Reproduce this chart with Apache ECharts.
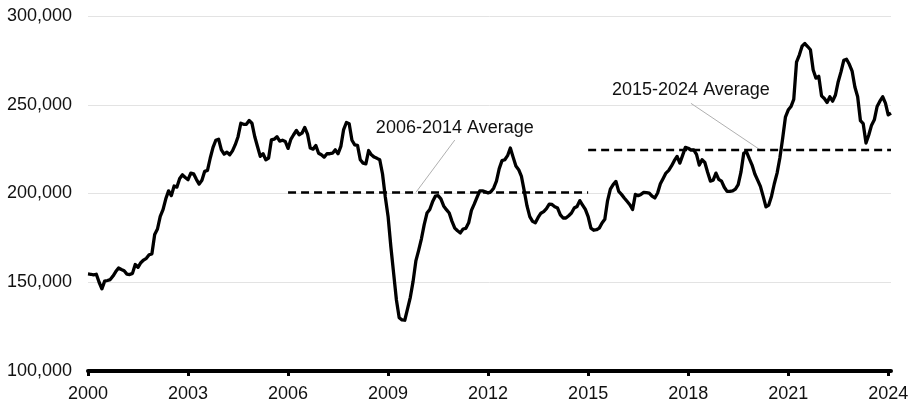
<!DOCTYPE html>
<html><head><meta charset="utf-8">
<script src="https://cdn.jsdelivr.net/npm/echarts@6/dist/echarts.min.js"></script>
<style>html,body{margin:0;padding:0;background:#fff}#c{width:914px;height:404px}</style>
</head><body><div id="c"></div>
<script>
// Monthly values, Jan 2000 – Feb 2024
const v2000 = [154700,154500,154100,154500,150000,146300,150600,151000,151500,153500,156000,158000];
const v2001 = [157200,156500,154600,154300,155000,160000,158400,161000,162500,163500,165500,166000];
const v2002 = [176900,180000,187100,190900,197000,201500,198800,204200,203600,208500,210500,209000];
const v2003 = [207800,211500,211100,208000,205300,207500,212500,213000,220000,226000,230000,230600];
const v2004 = [224600,222200,223300,221800,224000,227500,232000,239600,239000,239000,241100,239600];
const v2005 = [232100,226500,220900,222400,219000,220000,230200,230600,232000,229500,230000,229300];
const v2006 = [225400,230500,233100,235500,233100,234000,237200,233500,225600,225000,227000,222700];
const v2007 = [221800,220500,222400,222400,222700,224600,222400,226500,236000,240000,239300,230000];
const v2008 = [227400,227100,219000,217100,216700,224200,221800,220500,219800,219000,211000,198000];
const v2009 = [187100,170000,155000,140000,130000,128800,128600,135000,141500,150500,162000,168000];
const v2010 = [174500,182500,189000,191000,195300,198500,198800,197000,193000,190900,189000,184300];
const v2011 = [180500,179000,177800,180000,180400,183500,190500,194000,197800,201500,201500,201000];
const v2012 = [200300,201000,203000,207000,214000,218500,219000,221300,225600,220500,215500,213400];
const v2013 = [209600,201500,193000,187000,184300,183500,186500,188900,189800,191500,194000,193800];
const v2014 = [192500,191800,188000,186200,186200,187500,189000,191800,192700,196000,193500,191000];
const v2015 = [187000,180500,179300,179600,180500,183400,185500,196000,202500,205000,206800,201200];
const v2016 = [199500,197500,195600,193700,191000,199500,198800,199500,200600,200500,200200,198500];
const v2017 = [197500,200300,205500,208500,211500,213000,215500,218500,220900,217100,221500,226000];
const v2018 = [225500,224500,224600,222000,216000,219000,217500,212000,207000,207500,211500,208000];
const v2019 = [207000,203500,201200,201200,201500,202500,205000,212000,222700,223500,219600,216000];
const v2020 = [211000,207500,204000,198400,192500,193500,198500,205500,211500,220000,231000,243000];
const v2021 = [247000,249000,253000,274000,278000,283000,284500,282800,281000,269600,265000,266000];
const v2022 = [255000,253500,251300,254500,252000,255500,263000,268500,275000,275600,272800,269000];
const v2023 = [260000,254500,241000,239300,228400,233000,238500,241500,249000,252000,254500,250900];
const v2024 = [244300,245300];

const startYear = 2000;
const tickYears = [2000,2003,2006,2009,2012,2015,2018,2021,2024];
const yTicks = [100000,150000,200000,250000,300000];

const avg2006_2014 = 200600;
const avg2015_2024 = 224500;
const avgLabels = ['2006-2014 Average','2015-2024 Average'];

const values = [].concat(v2000,v2001,v2002,v2003,v2004,v2005,v2006,v2007,v2008,v2009,v2010,v2011,
  v2012,v2013,v2014,v2015,v2016,v2017,v2018,v2019,v2020,v2021,v2022,v2023,v2024);

const categories = values.map((v,i)=> (startYear + Math.floor(i/12)) + '-' + String(i%12+1).padStart(2,'0'));
const idxOf = (y,m)=> (y-startYear)*12 + (m-1);

const avgA = values.map((v,i)=> (i>=idxOf(2006,1) && i<=idxOf(2015,1)) ? avg2006_2014 : '-');
const avgB = values.map((v,i)=> (i>=idxOf(2015,1)) ? avg2015_2024 : '-');

const isTick = (idx)=> tickYears.includes(startYear + idx/12);

const FONT = 'Liberation Sans, Arial, sans-serif';
const chart = echarts.init(document.getElementById('c'));
chart.setOption({
  animation:false,
  backgroundColor:'#fff',
  grid:{left:88, right:23, top:16, bottom:33, containLabel:false},
  xAxis:{
    type:'category', data:categories, boundaryGap:false,
    axisLine:{show:true, lineStyle:{color:'#000', width:4}},
    axisTick:{show:true, interval:(i)=>isTick(i), length:5, lineStyle:{color:'#000', width:3}},
    axisLabel:{interval:(i)=>isTick(i), formatter:(v)=>v.slice(0,4), color:'#111', fontSize:18, fontFamily:FONT, margin:14},
    splitLine:{show:false}
  },
  yAxis:{
    type:'value', min:yTicks[0], max:yTicks[yTicks.length-1], interval:50000,
    axisLine:{show:false}, axisTick:{show:false},
    axisLabel:{formatter:(v)=>v.toLocaleString('en-US'), color:'#111', fontSize:18, fontFamily:FONT, margin:16},
    splitLine:{show:true, lineStyle:{color:'#e3e3e3', width:1}}
  },
  series:[
    {type:'line', data:avgA, showSymbol:false, symbol:'none', lineStyle:{color:'#000', width:2.5, type:[8,5]}, z:2},
    {type:'line', data:avgB, showSymbol:false, symbol:'none', lineStyle:{color:'#000', width:2.5, type:[8,5]}, z:2},
    {type:'line', data:values, showSymbol:false, symbol:'none', lineStyle:{color:'#000', width:3.3, join:'round'}, z:3}
  ]
});

function px(i,v){ return chart.convertToPixel({gridIndex:0},[i,v]); }
const t1 = px(132, 237000), a1 = px(132, 230100), b1 = px(118, avg2006_2014);
const t2 = px(217, 258300), a2 = px(217, 250800), b2 = px(242, avg2015_2024);
chart.setOption({graphic:[
  {type:'line', shape:{x1:a1[0],y1:a1[1],x2:b1[0],y2:b1[1]}, style:{stroke:'#b0b0b0', lineWidth:1}, z:1},
  {type:'line', shape:{x1:a2[0],y1:a2[1],x2:b2[0],y2:b2[1]}, style:{stroke:'#b0b0b0', lineWidth:1}, z:1},
  {type:'text', x:t1[0], y:t1[1], style:{text:avgLabels[0], fill:'#111', font:'18px '+FONT, align:'center', verticalAlign:'middle'}, z:5},
  {type:'text', x:t2[0], y:t2[1], style:{text:avgLabels[1], fill:'#111', font:'18px '+FONT, align:'center', verticalAlign:'middle'}, z:5}
]});
</script>
</body></html>
